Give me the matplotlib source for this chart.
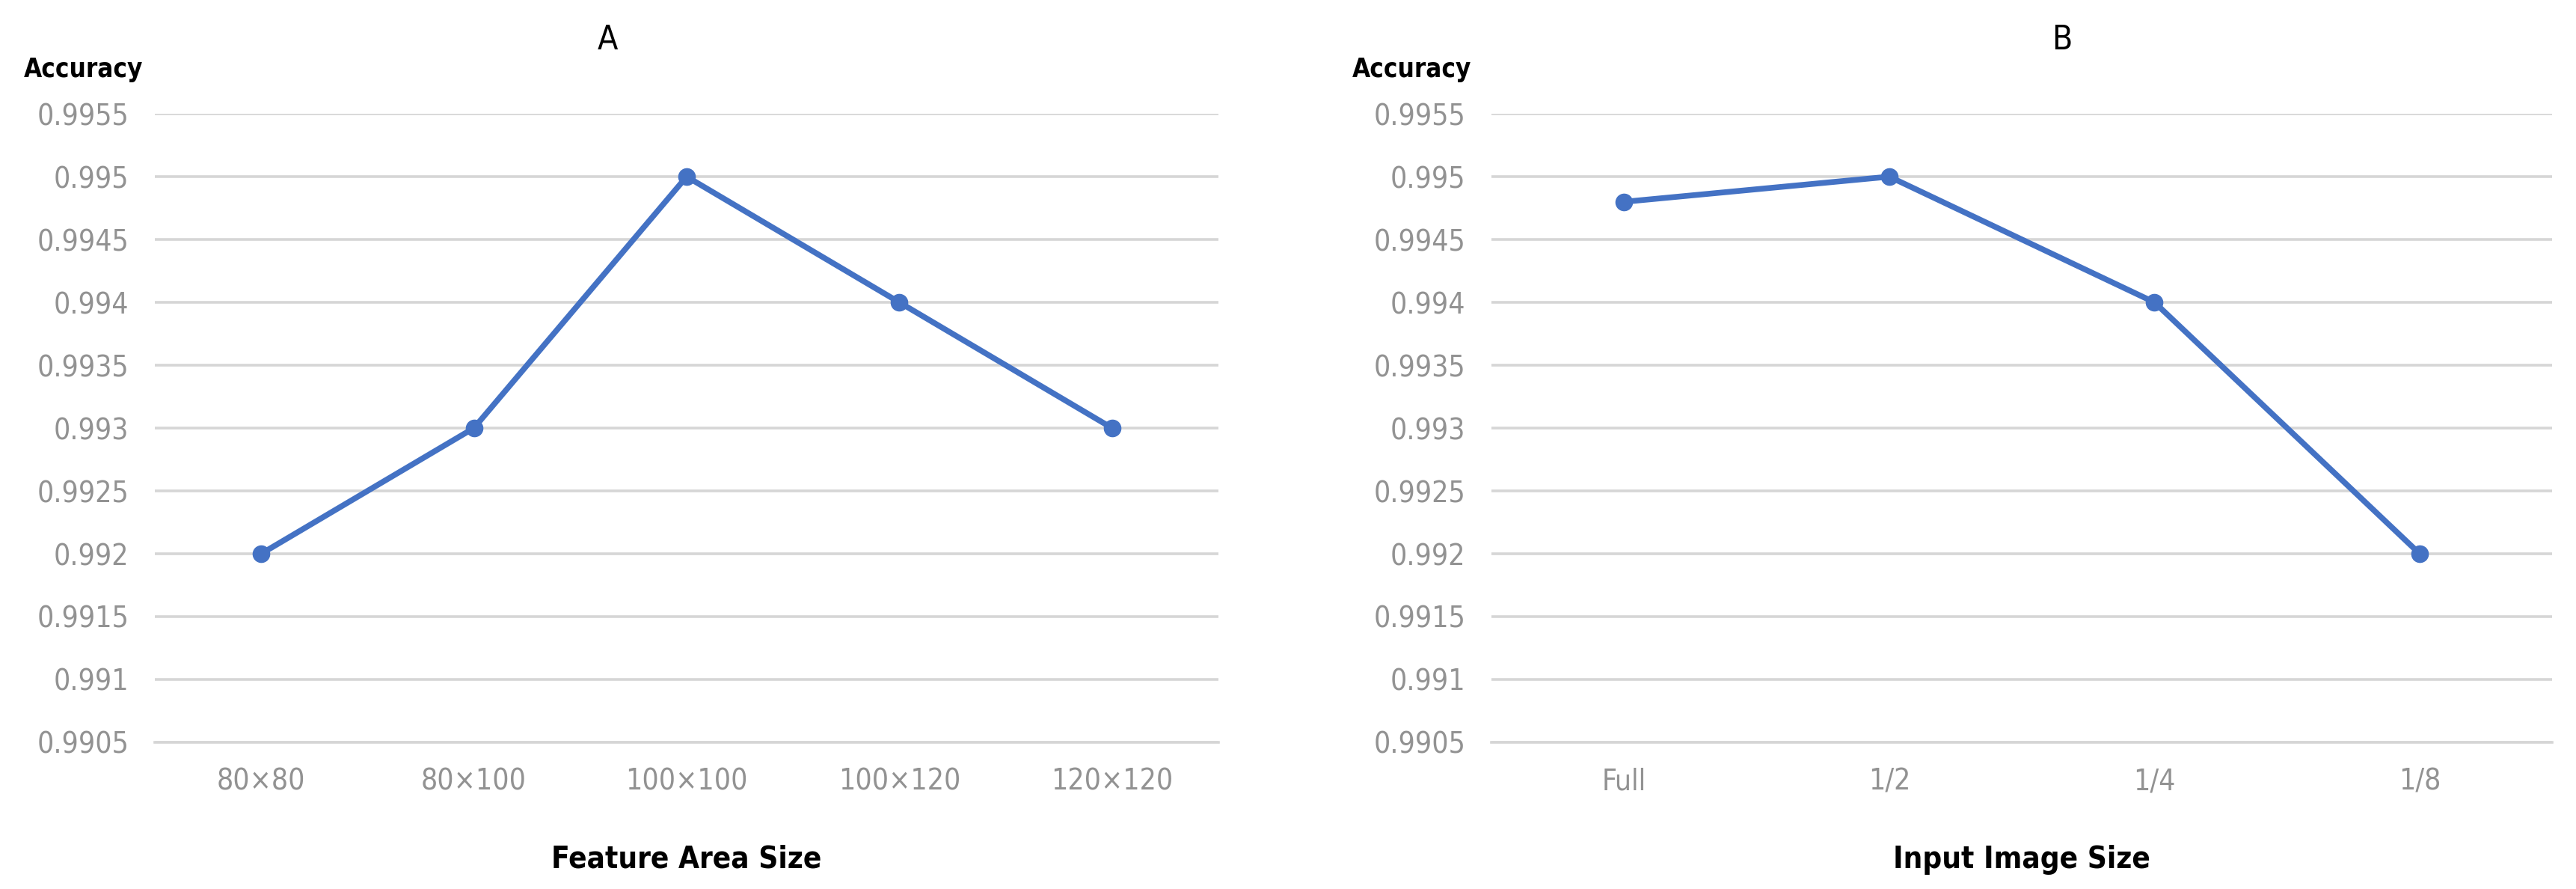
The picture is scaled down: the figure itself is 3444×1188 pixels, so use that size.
import matplotlib
matplotlib.use("Agg")
import matplotlib.pyplot as plt

# panel A: feature area size vs accuracy
feature_sizes = ["80×80", "80×100", "100×100", "100×120", "120×120"]
feature_acc = [0.992, 0.993, 0.995, 0.994, 0.993]

# panel B: input image size vs accuracy
input_sizes = ["Full", "1/2", "1/4", "1/8"]
input_acc = [0.9948, 0.995, 0.994, 0.992]

y_ticks = [0.9905, 0.991, 0.9915, 0.992, 0.9925, 0.993, 0.9935, 0.994, 0.9945, 0.995, 0.9955]
y_labels = ["0.9905", "0.991", "0.9915", "0.992", "0.9925", "0.993", "0.9935", "0.994", "0.9945", "0.995", "0.9955"]

LINE_COLOR = "#4472C4"
GRID_COLOR = "#d6d6d6"
TICK_COLOR = "#929292"

plt.rcParams['font.family'] = ['DejaVu Sans']
plt.rcParams['font.stretch'] = 'condensed'

fig = plt.figure(figsize=(34.44, 11.88), dpi=100)


def draw_panel(ax, cats, vals, xlabel):
    x = list(range(len(cats)))
    ax.plot(x, vals, color=LINE_COLOR, linewidth=5.5, marker='o', markersize=16,
            markerfacecolor=LINE_COLOR, markeredgecolor=LINE_COLOR, zorder=3)
    ax.set_xlim(-0.5, len(cats) - 0.5)
    ax.set_ylim(y_ticks[0], y_ticks[-1])
    ax.set_yticks(y_ticks)
    ax.set_yticklabels(y_labels)
    ax.set_xticks(x)
    ax.set_xticklabels(cats)
    ax.grid(axis='y', color=GRID_COLOR, linewidth=2.6, zorder=0)
    for side in ['top', 'right', 'left']:
        ax.spines[side].set_visible(False)
    ax.spines['bottom'].set_color(GRID_COLOR)
    ax.spines['bottom'].set_linewidth(2.6)
    ax.tick_params(axis='both', length=0, labelsize=28, labelcolor=TICK_COLOR)
    ax.tick_params(axis='y', pad=25)
    ax.tick_params(axis='x', pad=24)
    ax.set_xlabel(xlabel, fontsize=29, fontweight='bold', labelpad=47)


ax1 = fig.add_axes([0.0601, 0.165, 0.4129, 0.707])
draw_panel(ax1, feature_sizes, feature_acc, "Feature Area Size")

ax2 = fig.add_axes([0.579, 0.165, 0.4118, 0.707])
draw_panel(ax2, input_sizes, input_acc, "Input Image Size")

fig.text(0.236, 0.955, "A", fontsize=32, ha='center', va='center')
fig.text(0.8005, 0.955, "B", fontsize=32, ha='center', va='center')
fig.text(0.0323, 0.922, "Accuracy", fontsize=25, fontweight='bold', ha='center', va='center')
fig.text(0.548, 0.922, "Accuracy", fontsize=25, fontweight='bold', ha='center', va='center')

fig.savefig("out.png", dpi=100, facecolor='white')
